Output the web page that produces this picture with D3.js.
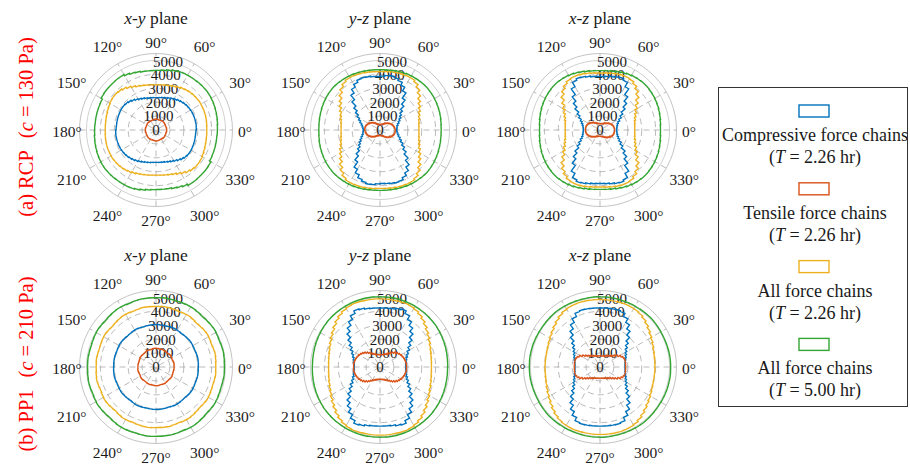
<!DOCTYPE html>
<html><head><meta charset="utf-8">
<script src="https://cdn.jsdelivr.net/npm/d3@7"></script>
<style>
body{margin:0;background:#fff}
text{font-family:"Liberation Serif","Times New Roman",serif;fill:#1a1a1a}
</style>
</head><body>
<svg id="chart" width="910" height="466"></svg>
<script>
// ---------------- data ----------------
// Orientation roses: bins of 5° from 0° to 180° (axial data, the bin at θ+180° holds the same count)
const binWidthDeg = 5;
const angleTicks = [0, 30, 60, 90, 120, 150, 180, 210, 240, 270, 300, 330];
const radialTicks = [0, 1000, 2000, 3000, 4000, 5000];
const planeLabels = [["x", "y"], ["y", "z"], ["x", "z"]];
const rowNames = ["(a) RCP", "(b) PP1"];
const rowStress = ["130", "210"];
const seriesNames = ["Compressive force chains", "Tensile force chains", "All force chains", "All force chains"];
const seriesTimes = ["2.26", "2.26", "2.26", "5.00"];

// (a) RCP, x-y plane
const xyRCP_comp = [2900,2910,2900,2900,2890,2880,2860,2830,2790,2740,2680,2610,2540,2480,2420,2380,2350,2330,2330,2340,2360,2400,2450,2520,2600,2700,2790,2860,2900,2910,2900,2890,2880,2870,2860,2870];
const xyRCP_tens = [760,770,760,750,740,750,760,770,780,790,790,780,770,760,750,760,770,780,790,780,770,760,750,740,750,760,770,780,770,760,750,740,750,760,770,760];
const xyRCP_all  = [3650,3670,3690,3710,3720,3720,3730,3710,3690,3660,3610,3550,3470,3400,3340,3300,3270,3250,3250,3270,3300,3350,3420,3520,3640,3760,3840,3880,3880,3850,3800,3750,3710,3680,3660,3650];
const xyRCP_all5 = [4420,4450,4480,4510,4540,4570,4590,4600,4590,4580,4560,4550,4540,4530,4470,4400,4330,4290,4280,4290,4310,4370,4420,4500,4600,4600,4580,4580,4580,4560,4450,4430,4420,4410,4400,4410];
// (a) RCP, y-z plane
const yzRCP_comp = [1200,1230,1260,1340,1450,1580,1720,1880,2100,2420,2800,3250,3550,3780,3900,3980,3940,3880,3850,3870,3920,3960,3930,3780,3560,3250,2850,2450,2150,1900,1700,1540,1400,1310,1240,1210];
const yzRCP_tens = [1080,1070,1040,1000,960,910,850,780,720,650,590,530,480,450,420,410,400,400,400,400,410,430,460,500,560,630,700,770,840,900,960,1010,1050,1080,1100,1100];
const yzRCP_all  = [2800,2820,2870,2950,3050,3200,3350,3550,3800,4050,4250,4350,4350,4320,4300,4260,4230,4200,4200,4220,4250,4290,4320,4350,4350,4260,4080,3830,3580,3380,3200,3050,2950,2870,2820,2800];
const yzRCP_all5 = [4400,4420,4450,4470,4490,4510,4530,4540,4550,4540,4520,4500,4480,4450,4420,4380,4350,4340,4340,4350,4370,4400,4430,4460,4490,4510,4530,4550,4540,4520,4500,4480,4450,4430,4410,4400];
// (a) RCP, x-z plane
const xzRCP_comp = [1200,1220,1260,1310,1400,1560,1760,2000,2350,2700,3100,3600,3950,4050,4000,3930,3880,3850,3850,3880,3930,4000,4050,3950,3600,3100,2700,2350,2000,1760,1560,1420,1320,1260,1220,1200];
const xzRCP_tens = [1050,1040,1020,990,950,900,840,780,720,660,610,560,520,490,470,455,450,450,450,455,465,490,520,560,610,660,720,780,840,900,950,990,1020,1040,1050,1050];
const xzRCP_all  = [2500,2520,2560,2640,2750,2900,3100,3350,3650,3900,4100,4230,4270,4260,4220,4170,4130,4100,4100,4130,4170,4220,4260,4270,4230,4100,3900,3650,3350,3100,2900,2750,2640,2560,2520,2500];
const xzRCP_all5 = [4350,4380,4420,4460,4500,4530,4560,4580,4600,4600,4580,4550,4500,4450,4390,4330,4290,4270,4270,4290,4330,4390,4450,4500,4550,4580,4600,4600,4580,4560,4530,4500,4460,4420,4380,4350];
// (b) PP1, x-y plane
const xyPP1_comp = [3050,3060,3070,3060,3040,3050,3070,3080,3060,3040,3030,3050,3070,3060,3040,3030,3040,3050,3060,3050,3040,3030,3050,3070,3060,3040,3030,3050,3070,3080,3060,3040,3050,3060,3050,3040];
const xyPP1_tens = [1300,1310,1320,1300,1280,1290,1310,1330,1320,1300,1290,1300,1320,1340,1330,1310,1320,1340,1350,1340,1320,1310,1330,1340,1320,1300,1290,1300,1320,1330,1310,1290,1280,1290,1300,1300];
const xyPP1_all  = [4300,4330,4360,4340,4310,4350,4380,4360,4320,4300,4340,4370,4350,4320,4340,4360,4380,4360,4350,4370,4380,4350,4330,4360,4380,4350,4310,4290,4320,4350,4330,4300,4280,4300,4320,4300];
const xyPP1_all5 = [4920,4940,4960,4950,4930,4960,4990,4970,4950,4930,4960,4990,5000,4980,4960,4980,5000,4990,4980,4990,5000,4980,4960,4990,5010,4990,4960,4930,4950,4970,4950,4920,4900,4910,4930,4920];
// (b) PP1, y-z plane
const yzPP1_comp = [1850,1870,1920,1990,2100,2250,2450,2700,3000,3350,3650,3950,4250,4450,4380,4300,4260,4250,4250,4260,4300,4380,4450,4250,3950,3650,3350,3000,2700,2450,2250,2100,1990,1920,1870,1850];
const yzPP1_tens = [1900,1900,1880,1850,1810,1760,1700,1620,1520,1400,1280,1160,1070,1000,950,910,890,880,880,890,910,950,1000,1070,1160,1280,1400,1520,1620,1700,1760,1810,1850,1880,1900,1900];
const yzPP1_all  = [3700,3720,3760,3820,3900,4000,4120,4260,4420,4580,4720,4830,4900,4930,4920,4900,4900,4900,4900,4900,4900,4920,4930,4900,4830,4720,4580,4420,4260,4120,4000,3900,3820,3760,3720,3700];
const yzPP1_all5 = [4870,4880,4900,4920,4940,4960,4980,5000,5010,5020,5030,5040,5050,5050,5060,5060,5050,5050,5050,5060,5060,5050,5050,5040,5030,5020,5010,5000,4980,4960,4940,4920,4900,4880,4870,4860];
// (b) PP1, x-z plane
const xzPP1_comp = [1800,1820,1860,1920,2000,2100,2220,2400,2650,3000,3350,3700,4000,4250,4300,4280,4260,4250,4250,4260,4280,4300,4250,4000,3700,3350,3000,2650,2400,2220,2100,2000,1920,1860,1820,1800];
const xzPP1_tens = [1840,1850,1860,1860,1800,1680,1500,1330,1190,1090,1010,950,900,870,840,820,810,800,800,810,820,840,870,900,950,1010,1090,1190,1330,1500,1680,1800,1860,1860,1850,1840];
const xzPP1_all  = [3950,3960,3990,4040,4110,4200,4300,4420,4550,4680,4780,4840,4860,4870,4860,4850,4850,4850,4850,4850,4860,4870,4860,4840,4780,4680,4550,4420,4300,4200,4110,4040,3990,3960,3950,3950];
const xzPP1_all5 = [5080,5080,5070,5060,5050,5050,5060,5070,5080,5070,5060,5050,5050,5040,5040,5050,5050,5050,5060,5050,5040,5040,5050,5060,5070,5080,5070,5060,5050,5050,5060,5070,5080,5080,5090,5080];

// ---------------- layout / style ----------------
const colors = ["#0072BD", "#D95319", "#EDB120", "#33a532"];
const colX = [156, 380, 600];
const rowY = [130, 367];
const outerR = 76.5;
const rMax = 5500;

const panels = [
  {row:0, col:0, data:[xyRCP_comp, xyRCP_tens, xyRCP_all, xyRCP_all5]},
  {row:0, col:1, data:[yzRCP_comp, yzRCP_tens, yzRCP_all, yzRCP_all5]},
  {row:0, col:2, data:[xzRCP_comp, xzRCP_tens, xzRCP_all, xzRCP_all5]},
  {row:1, col:0, data:[xyPP1_comp, xyPP1_tens, xyPP1_all, xyPP1_all5]},
  {row:1, col:1, data:[yzPP1_comp, yzPP1_tens, yzPP1_all, yzPP1_all5]},
  {row:1, col:2, data:[xzPP1_comp, xzPP1_tens, xzPP1_all, xzPP1_all5]},
];

const svg = d3.select("#chart");
const r = d3.scaleLinear().domain([0, rMax]).range([0, outerR]);
const toRad = d => d * Math.PI / 180;

// stairs polar histogram: each bin is an arc at its radius; consecutive bins are joined radially
function rosePoints(vals) {
  const pts = [];
  for (let h = 0; h < 2; h++) {
    vals.forEach((v, i) => {
      const a0 = i * binWidthDeg + 180 * h;
      pts.push([a0, v], [a0 + binWidthDeg / 2, v], [a0 + binWidthDeg, v]);
    });
  }
  return pts;
}
const roseLine = d3.lineRadial()
  .angle(d => toRad(90 - d[0]))
  .radius(d => r(d[1]))
  .curve(d3.curveLinearClosed);

panels.forEach(p => {
  const g = svg.append("g").attr("transform", `translate(${colX[p.col]},${rowY[p.row]})`);
  // grid: spokes
  [0, 30, 60, 90, 120, 150].forEach(a => {
    const c = Math.cos(toRad(a)), s = Math.sin(toRad(a));
    g.append("line")
      .attr("x1", -outerR * c).attr("y1", outerR * s)
      .attr("x2", outerR * c).attr("y2", -outerR * s)
      .attr("stroke", "#a8a8a8").attr("stroke-width", 0.8)
      .attr("stroke-dasharray", "6,4");
  });
  // grid: rings
  radialTicks.filter(t => t > 0).forEach(t => {
    g.append("circle").attr("r", r(t)).attr("fill", "none")
      .attr("stroke", t === 5000 ? "#c4c4c4" : "#a8a8a8")
      .attr("stroke-width", 0.8)
      .attr("stroke-dasharray", t === 5000 ? null : "6,4");
  });
  g.append("circle").attr("r", outerR).attr("fill", "none")
    .attr("stroke", "#c4c4c4").attr("stroke-width", 1);

  // angle labels
  angleTicks.forEach(a => {
    const s2 = Math.sin(toRad(2 * a));
    const rl = 89 + 11 * s2 * s2;
    g.append("text")
      .attr("x", rl * Math.cos(toRad(a)))
      .attr("y", -rl * Math.sin(toRad(a)) + 1)
      .attr("text-anchor", "middle").attr("dominant-baseline", "central")
      .attr("font-size", 15.5).text(a + "°");
  });
  // radial tick labels
  radialTicks.forEach(t => {
    g.append("text")
      .attr("x", r(t) * Math.cos(toRad(80)))
      .attr("y", -r(t) * Math.sin(toRad(80)))
      .attr("text-anchor", "middle").attr("dominant-baseline", "central")
      .attr("font-size", 15).text(t);
  });

  // series
  p.data.forEach((vals, k) => {
    g.append("path").attr("d", roseLine(rosePoints(vals)))
      .attr("fill", "none").attr("stroke", colors[k])
      .attr("stroke-width", 1.4).attr("stroke-linejoin", "miter");
  });

  // title
  const pl = planeLabels[p.col];
  const t = g.append("text").attr("x", 0).attr("y", -112)
    .attr("text-anchor", "middle").attr("dominant-baseline", "central")
    .attr("font-size", 17.5);
  t.append("tspan").attr("font-style", "italic").text(pl[0]);
  t.append("tspan").text("-");
  t.append("tspan").attr("font-style", "italic").text(pl[1]);
  t.append("tspan").text(" plane");
});

// row labels
rowY.forEach((y, i) => {
  const t = svg.append("text")
    .attr("transform", `translate(33,${y - 3}) rotate(-90)`)
    .attr("text-anchor", "middle").attr("font-size", 20.5)
    .style("fill", "#ff0000");
  t.append("tspan").text(rowNames[i]);
  t.append("tspan").attr("dx", 12).text("(");
  t.append("tspan").attr("font-style", "italic").text("c");
  t.append("tspan").text(` = ${rowStress[i]} Pa)`);
});

// legend
const lg = svg.append("g");
lg.append("rect").attr("x", 718.5).attr("y", 87.5).attr("width", 189).attr("height", 319)
  .attr("fill", "#fff").attr("stroke", "#333").attr("stroke-width", 1);
const legX = 814;
seriesNames.forEach((name, k) => {
  const y0 = 105 + k * 77.8;
  lg.append("rect").attr("x", legX - 15).attr("y", y0).attr("width", 30).attr("height", 12)
    .attr("fill", "#fff").attr("stroke", colors[k]).attr("stroke-width", 1.4);
  lg.append("text").attr("x", legX + 1).attr("y", y0 + 30)
    .attr("text-anchor", "middle").attr("dominant-baseline", "central")
    .attr("font-size", 18).text(name);
  const t2 = lg.append("text").attr("x", legX + 1).attr("y", y0 + 52)
    .attr("text-anchor", "middle").attr("dominant-baseline", "central")
    .attr("font-size", 18);
  t2.append("tspan").text("(");
  t2.append("tspan").attr("font-style", "italic").text("T");
  t2.append("tspan").text(` = ${seriesTimes[k]} hr)`);
});
</script>
</body></html>
